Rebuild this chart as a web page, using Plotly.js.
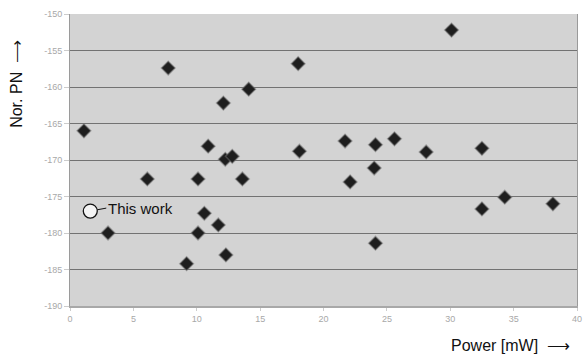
<!DOCTYPE html>
<html>
<head>
<meta charset="utf-8">
<script src="https://cdn.plot.ly/plotly-3.0.1.min.js"></script>
<style>html,body{margin:0;padding:0;background:#fff;}#chart{width:584px;height:360px;}</style>
</head>
<body>
<div id="chart"></div>
<script>
// Other works: power [mW] and normalised phase noise
const powerMW = [1.1, 7.75, 18.0, 30.1, 14.1, 12.1, 6.1, 10.9, 12.25, 12.8, 13.6, 10.1, 18.1, 21.7, 22.1, 24.1, 24.0, 25.6, 28.1, 32.5, 32.5, 34.3, 38.1, 24.1, 10.6, 11.7, 10.1, 3.0, 9.2, 12.3];
const norPN   = [-166.0, -157.4, -156.8, -152.2, -160.3, -162.2, -172.6, -168.1, -169.9, -169.5, -172.6, -172.6, -168.8, -167.4, -173.0, -167.9, -171.1, -167.1, -168.9, -168.4, -176.7, -175.1, -176.0, -181.4, -177.3, -178.9, -180.0, -180.0, -184.2, -183.0];
// This work
const thisPower = [1.6];
const thisPN = [-177.0];
const thisLabel = "This work";
const xTicks = [0, 5, 10, 15, 20, 25, 30, 35, 40];
const yTicks = [-150, -155, -160, -165, -170, -175, -180, -185, -190];

const traces = [
  {
    x: powerMW, y: norPN, type: 'scatter', mode: 'markers',
    marker: {symbol: 'diamond', size: 10.5, color: '#1e1e1e',
             line: {width: 1.5, color: 'rgba(110,110,110,0.5)'}},
    hoverinfo: 'skip'
  },
  {
    x: thisPower, y: thisPN, type: 'scatter', mode: 'markers',
    marker: {symbol: 'circle', size: 14, color: '#f4f4f4',
             line: {width: 1.3, color: '#111'}},
    hoverinfo: 'skip'
  }
];

const layout = {
  width: 584, height: 360,
  margin: {l: 70, r: 7, t: 14, b: 54},
  paper_bgcolor: '#ffffff',
  plot_bgcolor: '#d3d3d3',
  showlegend: false,
  xaxis: {
    range: [0, 40], tickvals: xTicks, ticktext: xTicks.map(String),
    showgrid: false, zeroline: false,
    showline: true, linecolor: '#a8a8a8', linewidth: 2, mirror: false,
    ticks: 'outside', ticklen: 3, tickcolor: '#cccccc',
    tickfont: {family: 'Arial, Liberation Sans, sans-serif', size: 9, color: '#a8a8a8'}
  },
  yaxis: {
    range: [-190, -150], tickvals: yTicks, ticktext: yTicks.map(String),
    showgrid: true, gridcolor: '#727272', gridwidth: 1, zeroline: false,
    showline: true, linecolor: '#9a9a9a', linewidth: 1, mirror: true,
    ticks: 'outside', ticklen: 5, tickcolor: '#cccccc',
    tickfont: {family: 'Arial, Liberation Sans, sans-serif', size: 9, color: '#a8a8a8'}
  },
  annotations: [
    {
      x: thisPower[0], y: thisPN[0], xref: 'x', yref: 'y',
      text: thisLabel, showarrow: true, arrowhead: 0, arrowwidth: 1, arrowcolor: '#111',
      ax: 16, ay: -3, axref: 'pixel', ayref: 'pixel',
      xanchor: 'left', yanchor: 'middle', standoff: 7,
      font: {family: 'Arial, Liberation Sans, sans-serif', size: 15, color: '#111'}
    },
    {
      xref: 'paper', yref: 'paper', x: -0.107, y: 0.76, xanchor: 'center', yanchor: 'middle',
      text: 'Nor. PN  \u27F6', textangle: -90, showarrow: false,
      font: {family: 'Arial, Liberation Sans, sans-serif', size: 16, color: '#111'}
    },
    {
      xref: 'paper', yref: 'paper', x: 0.99, y: -0.1, xanchor: 'right', yanchor: 'top',
      text: 'Power [mW]  \u27F6', showarrow: false,
      font: {family: 'Arial, Liberation Sans, sans-serif', size: 16, color: '#111'}
    }
  ]
};

Plotly.newPlot('chart', traces, layout, {displayModeBar: false, staticPlot: true});
</script>
</body>
</html>
